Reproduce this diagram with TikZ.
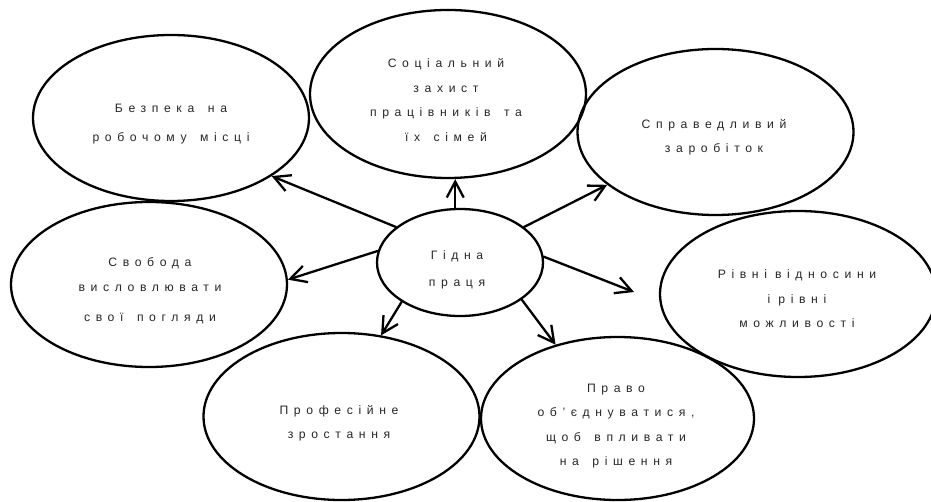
\documentclass[tikz,border=0pt]{standalone}
\usepackage{fontspec}
\newfontfamily\lsfont[LetterSpace=46,WordSpace=1.5]{Liberation Sans}
\usetikzlibrary{arrows.meta,shapes.geometric}
\begin{document}
\begin{tikzpicture}[x=1pt,y=-1pt,
  ell/.style={draw, ellipse, line width=2.3pt, inner sep=0pt, minimum width=276pt, minimum height=166pt},
  txt/.style={font={\lsfont\fontsize{12.2pt}{24.5pt}\selectfont}, text=black!85, align=center, inner sep=0pt},
  arr/.style={line width=2.3pt, line cap=round, -{Straight Barb[length=16pt,width=17pt]}}]
\clip (0,0) rectangle (931,502);
% ellipses
\node[ell] (bez) at (171,118) {};
\node[ell, minimum height=168pt] (soc) at (448,94) {};
\node[ell] (spr) at (715.5,132) {};
\node[ell, minimum width=276pt] (riv) at (798,294) {};
\node[ell, minimum height=165pt] (sv) at (149,284.5) {};
\node[ell, minimum width=166pt, minimum height=107pt] (g) at (460,262.5) {};
\node[ell, minimum height=167pt] (prof) at (341.5,416.5) {};
\node[ell, minimum width=273pt, minimum height=163pt] (pr) at (617.5,418.5) {};
% texts
\node[txt] (bez-t) at (171,124) {Безпека на\\[4.5pt]робочому місці};
\node[txt] (soc-t) at (446,100) {Соціальний\\захист\\працівників та\\їх сімей};
\node[txt] (spr-t) at (714,137) {Справедливий\\заробіток};
\node[txt] (riv-t) at (797,299) {Рівні\hspace{8pt}відносини\\і\hspace{8pt}рівні\\можливості};
\node[txt] (sv-t) at (150,291) {Свобода\\висловлювати\\[6pt]свої погляди};
\node[txt] (g-t) at (457,270) {Гідна\\[2.5pt]праця};
\node[txt] (prof-t) at (339,423) {Професійне\\зростання};
\node[txt] (pr-t) at (616,426) {Право\\об’єднуватися,\\щоб впливати\\на рішення};
% connectors
\coordinate (rivtip) at (634,292);
\draw[arr] (g.151.7) -- (bez.-30.5);
\draw[arr] (g.172.3) -- (sv.2.7);
\draw[arr] (g.95) -- (g.95 |- soc.south);
\draw[arr] (g.29) -- (spr.206.3);
\draw[arr] (g.4.2) -- (rivtip);
\draw[arr] (g.-31.6) -- (pr.130.9);
\draw[arr] (g.214.6) -- (prof.64.7);
\end{tikzpicture}
\end{document}
